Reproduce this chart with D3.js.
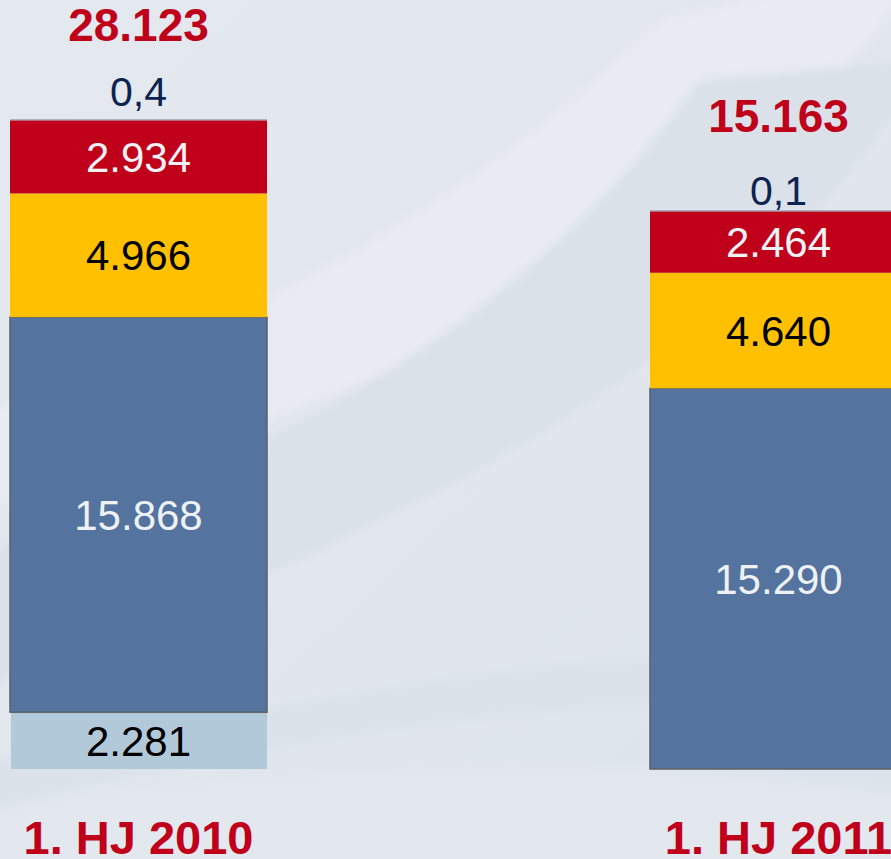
<!DOCTYPE html>
<html>
<head>
<meta charset="utf-8">
<script src="https://cdn.jsdelivr.net/npm/d3@7"></script>
<style>
  html, body { margin: 0; padding: 0; overflow: hidden; }
  svg { display: block; font-family: "Liberation Sans", Arial, sans-serif; }
</style>
</head>
<body>
<div id="chart"></div>
<script>
// values in thousands
const categories = ["1. HJ 2010", "1. HJ 2011"];
const seriesKeys = ["light", "blue", "yellow", "red"];
const lightValues  = [2.281, 0];
const blueValues   = [15.868, 15.290];
const yellowValues = [4.966, 4.640];
const redValues    = [2.934, 2.464];
const smallValues  = [0.4, 0.1];
const segLabels = {
  light:  ["2.281", ""],
  blue:   ["15.868", "15.290"],
  yellow: ["4.966", "4.640"],
  red:    ["2.934", "2.464"]
};
const smallLabels = ["0,4", "0,1"];
const totalLabels = ["28.123", "15.163"];

const width = 891, height = 859;
const colors = {light: "#b2c9d9", blue: "#54739f", yellow: "#ffc000", red: "#c0001a"};
const textColors = {light: "#000000", blue: "#eef1f6", yellow: "#000000", red: "#f2f2f5"};

const rows = categories.map((c, i) => ({
  cat: c,
  light: lightValues[i],
  blue: blueValues[i],
  yellow: yellowValues[i],
  red: redValues[i],
  small: smallValues[i]
}));

const svg = d3.select("#chart").append("svg")
  .attr("width", width)
  .attr("height", height);

// background with soft swooshes
const defs = svg.append("defs");
const bg = defs.append("linearGradient").attr("id", "bg")
  .attr("x1", 0).attr("y1", 0).attr("x2", 1).attr("y2", 1);
bg.append("stop").attr("offset", "0%").attr("stop-color", "#e4e8ef");
bg.append("stop").attr("offset", "50%").attr("stop-color", "#e2e7ee");
bg.append("stop").attr("offset", "100%").attr("stop-color", "#dde3eb");
defs.append("filter").attr("id", "soft")
  .attr("x", "-20%").attr("y", "-20%").attr("width", "140%").attr("height", "140%")
  .append("feGaussianBlur").attr("stdDeviation", 5);
svg.append("rect").attr("width", width).attr("height", height).attr("fill", "url(#bg)");

const swoosh = svg.append("g").attr("filter", "url(#soft)");
// lighter wide band sweeping up to the right
swoosh.append("path")
  .attr("d", "M-50,420 C200,360 480,200 660,20 L930,-40 C760,200 520,360 -50,520 Z")
  .attr("fill", "#e8ecf2");
// darker band below it
swoosh.append("path")
  .attr("d", "M-50,560 C260,470 520,330 700,80 L930,60 C760,330 500,500 -50,700 Z")
  .attr("fill", "#dbe1e9");
// light streak across the lower part
swoosh.append("path")
  .attr("d", "M-50,640 C250,560 480,450 660,250 C560,420 420,520 380,355 Z")
  .attr("fill", "#e5e9ef").attr("opacity", 0.0);
swoosh.append("path")
  .attr("d", "M-50,770 C300,700 560,640 930,660 L930,700 C580,690 300,730 -50,820 Z")
  .attr("fill", "#dce2ea");
swoosh.append("path")
  .attr("d", "M-50,820 C300,760 600,750 930,800 L930,880 L-50,880 Z")
  .attr("fill", "#e3e8ee");

const x = d3.scaleBand()
  .domain(categories)
  .range([10, 907])
  .paddingInner(0.5984)
  .paddingOuter(0);

const y = d3.scaleLinear()
  .domain([0, 30])
  .range([769, 769 - 30 * 24.9]);

const stack = d3.stack().keys(seriesKeys);
const layers = stack(rows);

const g = svg.append("g");

layers.forEach(layer => {
  const key = layer.key;
  const lg = g.append("g");
  lg.selectAll("rect")
    .data(layer.filter(d => d[1] > d[0]))
    .join("rect")
    .attr("x", d => x(d.data.cat) + (key === "light" ? 1 : 0))
    .attr("y", d => y(d[1]))
    .attr("width", x.bandwidth() - (key === "light" ? 1 : 0))
    .attr("height", d => y(d[0]) - y(d[1]))
    .attr("fill", colors[key])
    .attr("stroke", key === "blue" ? "#5f6267" : "none")
    .attr("stroke-width", key === "blue" ? 1.5 : 0);

  lg.selectAll("text")
    .data(layer.filter(d => d[1] > d[0]))
    .join("text")
    .attr("x", d => x(d.data.cat) + x.bandwidth() / 2)
    .attr("y", d => (y(d[0]) + y(d[1])) / 2)
    .attr("dy", "0.36em")
    .attr("text-anchor", "middle")
    .attr("font-size", 42)
    .attr("fill", textColors[key])
    .text(d => segLabels[key][categories.indexOf(d.data.cat)]);
});

// thin top edge on the red block
const topOf = d => d.light + d.blue + d.yellow + d.red;
g.selectAll(".edge")
  .data(rows)
  .join("line")
  .attr("class", "edge")
  .attr("x1", d => x(d.cat))
  .attr("x2", d => x(d.cat) + x.bandwidth())
  .attr("y1", d => y(topOf(d)) - 0.5)
  .attr("y2", d => y(topOf(d)) - 0.5)
  .attr("stroke", "#8d93a3")
  .attr("stroke-width", 1);

// small values above the stack
g.selectAll(".small")
  .data(rows)
  .join("text")
  .attr("class", "small")
  .attr("x", d => x(d.cat) + x.bandwidth() / 2)
  .attr("y", d => y(topOf(d) + d.small) - 4)
  .attr("text-anchor", "middle")
  .attr("font-size", 41)
  .attr("fill", "#0d2352")
  .text((d, i) => smallLabels[i]);

// totals
g.selectAll(".total")
  .data(rows)
  .join("text")
  .attr("class", "total")
  .attr("x", d => x(d.cat) + x.bandwidth() / 2)
  .attr("y", d => y(topOf(d)) - 79)
  .attr("text-anchor", "middle")
  .attr("font-size", 46)
  .attr("font-weight", "bold")
  .attr("fill", "#c0001a")
  .text((d, i) => totalLabels[i]);

// category labels
svg.append("g")
  .attr("transform", "translate(0,854)")
  .call(d3.axisBottom(x).tickSize(0).tickPadding(0))
  .call(a => a.select(".domain").remove())
  .selectAll("text")
  .attr("dy", 0)
  .attr("font-family", "\"Liberation Sans\", Arial, sans-serif")
  .attr("font-size", 47)
  .attr("font-weight", "bold")
  .attr("fill", "#c0001a");
</script>
</body>
</html>
